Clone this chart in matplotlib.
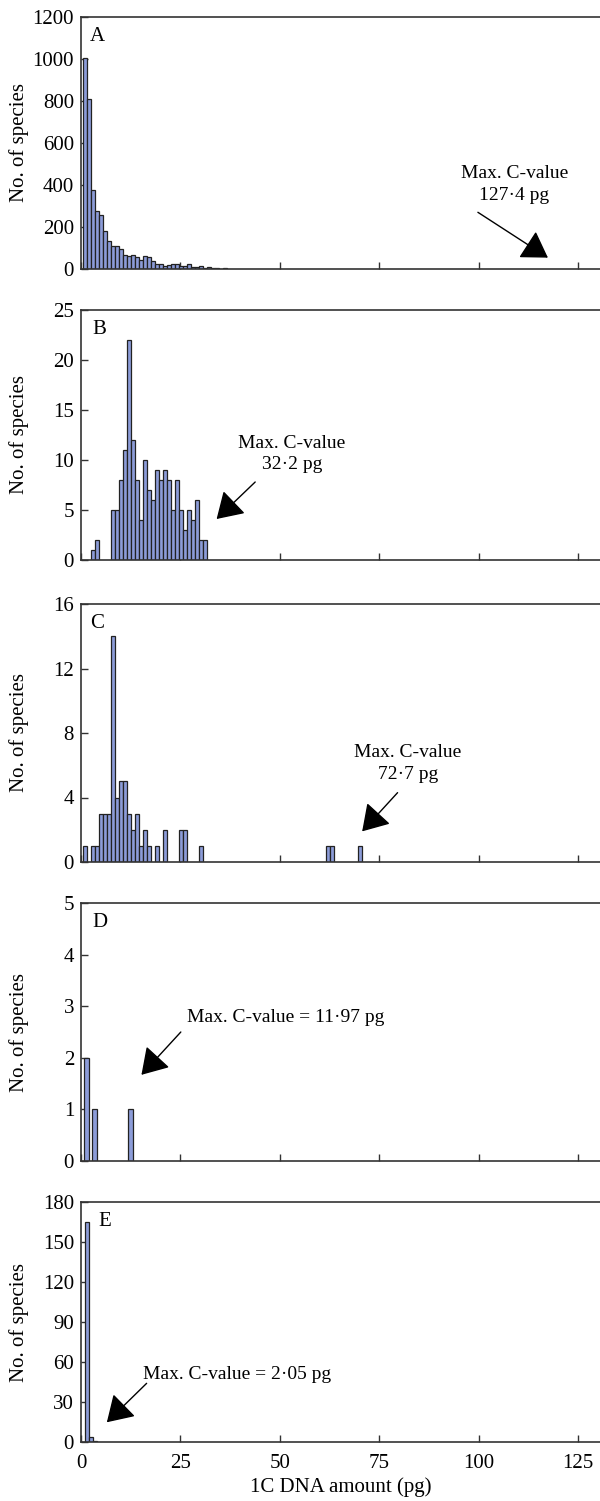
import numpy as np
import matplotlib
matplotlib.use("Agg")
import matplotlib.pyplot as plt

plt.rcParams["font.family"] = ["Liberation Serif", "DejaVu Serif"]

# --- data: counts per 1 pg bin ---
a_bins = list(range(1, 37))
a_n = [1005, 810, 378, 278, 255, 180, 132, 108, 108, 93, 67, 60, 67, 57, 45, 62,
       57, 40, 22, 22, 13, 20, 22, 22, 13, 16, 22, 9, 9, 16, 5, 10, 3, 3, 0, 5]

b_bins = [3, 4, 8, 9, 10, 11, 12, 13, 14, 15, 16, 17, 18, 19, 20, 21, 22, 23,
          24, 25, 26, 27, 28, 29, 30, 31]
b_n = [1, 2, 5, 5, 8, 11, 22, 12, 8, 4, 10, 7, 6, 9, 8, 9, 8, 5, 8, 5, 3, 5, 4,
       6, 2, 2]

c_bins = [1, 3, 4, 5, 6, 7, 8, 9, 10, 11, 12, 13, 14, 15, 16, 17, 19, 21, 25,
          26, 30, 62, 63, 70]
c_n = [1, 1, 1, 3, 3, 3, 14, 4, 5, 5, 3, 2, 3, 1, 2, 1, 1, 2, 2, 2, 1, 1, 1, 1]

d_bins = [1, 3, 12]
d_n = [2, 1, 1]

e_bins = [1, 2, 3]
e_n = [165, 4, 1]

panels = [
    # letter, bins, counts, ymax, ystep, px top, px bottom, bar offset, bar width, letter dx
    ("A", a_bins, a_n, 1200, 200, 17, 269, 0.1, 1.0, 9),
    ("B", b_bins, b_n, 25, 5, 310, 560, 0.1, 1.0, 11),
    ("C", c_bins, c_n, 16, 4, 604, 862, 0.1, 1.0, 9),
    ("D", d_bins, d_n, 5, 1, 903, 1161, 0.4, 1.2, 11),
    ("E", e_bins, e_n, 180, 30, 1202, 1442, 0.5, 1.2, 17),
]

# annotation text, text xy, arrow start, arrow tip (data units)
notes = {
    "A": ("Max. C-value\n127·4 pg", (109.0, 402), (99.8, 270), (117.4, 54), "center"),
    "B": ("Max. C-value\n32·2 pg", (53.0, 10.6), (43.8, 7.8), (34.1, 4.1), "center"),
    "C": ("Max. C-value\n72·7 pg", (82.2, 6.1), (79.6, 4.3), (70.7, 1.9), "center"),
    "D": ("Max. C-value = 11·97 pg", (26.7, 2.78), (25.1, 2.5), (15.2, 1.67), "left"),
    "E": ("Max. C-value = 2·05 pg", (15.6, 50.8), (16.5, 44), (6.5, 14.8), "left"),
}

W, H = 600, 1501
fig = plt.figure(figsize=(W / 100, H / 100), dpi=100)
left = 81
x_max = 130.5
bar_col = "#8c9cd8"

for letter, bins, counts, ymax, ystep, top, bot, off, bw, ldx in panels:
    ax = fig.add_axes([left / W, 1 - bot / H, (W - left) / W, (bot - top) / H])
    xs = np.array(bins) + off
    ax.bar(xs, counts, width=bw, color=bar_col, edgecolor="#222222",
           linewidth=0.9, zorder=2)
    ax.set_xlim(0, x_max)
    ax.set_ylim(0, ymax)
    ax.set_yticks(np.arange(0, ymax + ystep, ystep))
    ax.set_xticks([0, 25, 50, 75, 100, 125])
    ax.tick_params(direction="in", length=5, width=1, labelsize=15,
                   color="#333333", pad=5)
    ax.tick_params(axis="x", pad=9)
    if letter != "E":
        ax.tick_params(axis="x", labelbottom=False)
    for s in ["left", "bottom", "top"]:
        ax.spines[s].set_linewidth(1.2)
        ax.spines[s].set_color("#333333")
    ax.spines["right"].set_visible(False)
    ax.set_ylabel("No. of species", fontsize=15)
    ax.yaxis.set_label_coords(-0.1, 0.5)
    ax.annotate(letter, xy=(0, 1), xycoords="axes fraction", xytext=(ldx, -10),
                textcoords="offset pixels", fontsize=15, va="top", ha="left")

    txt, txy, start, tip, ha = notes[letter]
    ax.text(txy[0], txy[1], txt, fontsize=14, ha=ha, va="center",
            linespacing=1.35)
    ax.annotate("", xy=tip, xytext=start,
                arrowprops=dict(arrowstyle="-|>,head_length=0.8,head_width=0.5",
                                mutation_scale=20, color="black", lw=1,
                                shrinkA=0, shrinkB=0))
    if letter == "E":
        ax.set_xlabel("1C DNA amount (pg)", fontsize=15, labelpad=3)

fig.savefig("out.png", dpi=100)
